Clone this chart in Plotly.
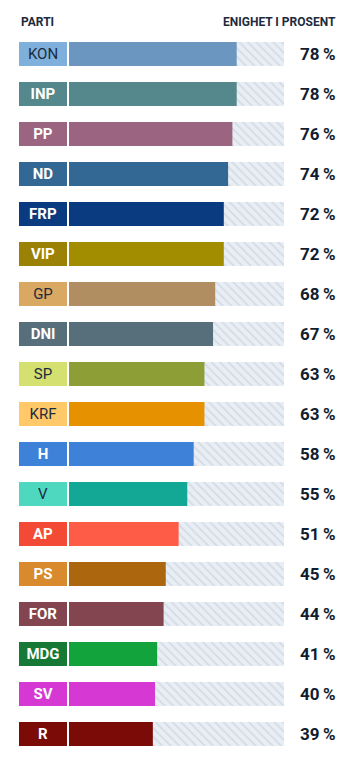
import plotly.graph_objects as go

parties = ["KON", "INP", "PP", "ND", "FRP", "VIP", "GP", "DNI", "SP", "KRF",
           "H", "V", "AP", "PS", "FOR", "MDG", "SV", "R"]
values = [78, 78, 76, 74, 72, 72, 68, 67, 63, 63, 58, 55, 51, 45, 44, 41, 40, 39]
bar_colors = ["#6a96c0", "#55888c", "#9b6480", "#336895", "#0a3a80", "#a28c00",
              "#b08e62", "#576e7b", "#8c9e35", "#e69200", "#3e81d8", "#12a895",
              "#ff5c48", "#ab660e", "#834550", "#12a33c", "#d638d4", "#7b0b06"]
label_colors = ["#7fb0dc", "#55888c", "#9b6480", "#336895", "#0a3a80", "#9b8206",
                "#d9a862", "#576e7b", "#d4e06f", "#ffc96a", "#3e81d8", "#4fd8c0",
                "#f34a36", "#d88a2c", "#834550", "#167a36", "#d638d4", "#7b0b06"]
dark = "#1d2b3e"
label_text_colors = [dark, "white", "white", "white", "white", "white",
                     dark, "white", dark, dark, "white", dark,
                     "white", "white", "white", "white", "white", "white"]
header_left = "PARTI"
header_right = "ENIGHET I PROSENT"

FONT = "Roboto, sans-serif"

OFF = 8  # default page body margin
W, H = 356 - OFF, 760 - OFF
ml, mr, mt, mb = 19 - OFF, 18, 34 - OFF, 6
px_per_unit = 2.15
track_left_px = 69
xmin = -(track_left_px - 19) / px_per_unit
xmax = (338 - track_left_px) / px_per_unit
label_w = (67 - 19) / px_per_unit

label_texts = [f"<b>{p}</b>" if c == "white" else p
               for p, c in zip(parties, label_text_colors)]

fig = go.Figure()
fig.add_trace(go.Bar(
    y=parties, x=[100] * len(parties), base=0, orientation="h", width=0.6,
    marker=dict(color="#e9eef4", line_width=0,
                pattern=dict(shape="\\", bgcolor="#e9eef4", fgcolor="#bcc8d6",
                             size=6, solidity=0.3)),
    hoverinfo="skip", showlegend=False))
fig.add_trace(go.Bar(
    y=parties, x=values, base=0, orientation="h", width=0.6,
    marker=dict(color=bar_colors, line_width=0),
    hoverinfo="skip", showlegend=False))
fig.add_trace(go.Bar(
    y=parties, x=[label_w] * len(parties), base=xmin, orientation="h", width=0.6,
    marker=dict(color=label_colors, line_width=0),
    text=label_texts, textposition="inside", insidetextanchor="middle",
    textangle=0, constraintext="none",
    textfont=dict(family=FONT, size=15, color=label_text_colors),
    hoverinfo="skip", showlegend=False))

for p, v in zip(parties, values):
    fig.add_annotation(x=1, xref="paper", y=p, yref="y", xanchor="right",
                       yanchor="middle", text=f"<b>{v}\u2009%</b>", showarrow=False,
                       font=dict(family=FONT, size=17, color="#111d2e"))

hy = 1 + (34 - 22) / (H - mt - mb)
fig.add_annotation(x=0, xref="paper", y=hy, yref="paper", xanchor="left",
                   yanchor="middle", text=f"<b>{header_left}</b>", showarrow=False,
                   font=dict(family=FONT, size=12, color="#1d2b3e"))
fig.add_annotation(x=1, xref="paper", y=hy, yref="paper", xanchor="right",
                   yanchor="middle", text=f"<b>{header_right}</b>", showarrow=False,
                   font=dict(family=FONT, size=12, color="#1d2b3e"))

fig.update_layout(
    width=W, height=H, barmode="overlay",
    margin=dict(l=ml, r=mr, t=mt, b=mb),
    paper_bgcolor="white", plot_bgcolor="white",
    xaxis=dict(range=[xmin, xmax], visible=False, fixedrange=True),
    yaxis=dict(visible=False, fixedrange=True, autorange=False,
               range=[len(parties) - 0.5, -0.5]),
    font=dict(family=FONT),
)
fig.write_html("out.html", config={"displayModeBar": False})
